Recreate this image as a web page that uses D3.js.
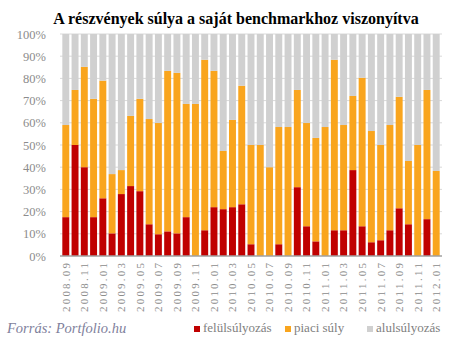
<!DOCTYPE html>
<html><head><meta charset="utf-8">
<script src="https://cdn.jsdelivr.net/npm/d3@7"></script>
<style>body{margin:0;background:#fff}svg{display:block}svg text{font-family:'Liberation Serif','DejaVu Serif',serif}</style>
</head><body>
<script>
const months = ["2008.09","2008.10","2008.11","2008.12","2009.01","2009.02","2009.03","2009.04","2009.05","2009.06","2009.07","2009.08","2009.09","2009.10","2009.11","2009.12","2010.01","2010.02","2010.03","2010.04","2010.05","2010.06","2010.07","2010.08","2010.09","2010.10","2010.11","2010.12","2011.01","2011.02","2011.03","2011.04","2011.05","2011.06","2011.07","2011.08","2011.09","2011.10","2011.11","2011.12","2012.01"];
// felülsúlyozás (%)
const over = [17.5,50,40,17.5,26,10.2,27.9,31.5,29.2,14.3,9.8,11.1,10.2,17.5,0,11.6,22,21.1,22,23.3,5.3,0,0,5.3,0,31,13.4,6.6,0,11.6,11.6,38.7,13.4,6.2,7.1,11.6,21.5,14.3,0,16.6,0];
// piaci súly (%)
const market = [41.5,24.8,45.2,53.3,53,26.7,10.8,31.6,41.6,47.4,50.1,72.3,72.3,51,68.5,76.8,61.4,26.2,39.3,53.4,44.7,50,40,52.8,58.1,43.8,46.5,46.6,58.1,76.8,47.4,33.4,66.9,50.1,42.9,47.4,50.2,28.5,50,58.2,38.3];
// alulsúlyozás (%)
const under = [41,25.2,14.8,29.2,21,63.1,61.3,36.9,29.2,38.3,40.1,16.6,17.5,31.5,31.5,11.6,16.6,52.7,38.7,23.3,50,50,60,41.9,41.9,25.2,40.1,46.8,41.9,11.6,41,27.9,19.7,43.7,50,41,28.3,57.2,50,25.2,61.7];
const yTicks = [0,10,20,30,40,50,60,70,80,90,100];
const seriesNames = ["felülsúlyozás","piaci súly","alulsúlyozás"];
const colors = ["#c00000","#f9a51e","#d0d0d0"];

const W=453,H=345;
const svg=d3.select("body").append("svg").attr("width",W).attr("height",H);
const x=d3.scaleBand().domain(months).range([60,442]).paddingInner(0.25).paddingOuter(0.25);
const y=d3.scaleLinear().domain([0,100]).range([256,34]);

svg.append("text").attr("x",236).attr("y",24).attr("text-anchor","middle")
  .style("font-weight","bold").style("font-size","16px")
  .attr("fill","#000").text("A részvények súlya a saját benchmarkhoz viszonyítva");

// gridlines
svg.append("g").selectAll("line").data(yTicks.slice(1)).join("line")
  .attr("x1",60).attr("x2",442).attr("y1",d=>y(d)).attr("y2",d=>y(d))
  .attr("stroke","#d9d9d9").attr("stroke-width",1);

const rows = months.map((m,i)=>({m, a:over[i], b:market[i], c:under[i]}));
const stack = d3.stack().keys(["a","b","c"])(rows);
svg.append("g").selectAll("g").data(stack).join("g").attr("fill",(d,i)=>colors[i])
  .selectAll("rect").data(d=>d).join("rect")
  .attr("x",d=>x(d.data.m)).attr("width",x.bandwidth())
  .attr("y",d=>y(Math.min(100,d[1]))).attr("height",d=>Math.max(0,y(d[0])-y(Math.min(100,d[1]))));

// y axis
const ya=d3.axisLeft(y).tickValues(yTicks).tickSize(0).tickPadding(14).tickFormat(d=>d+"%");
const yg=svg.append("g").attr("transform","translate(60,0)").call(ya);
yg.attr("font-family",null);
yg.select(".domain").remove();
yg.selectAll("text").style("font-size","12.5px").attr("fill","#8c8c8c");

// x axis
const xa=d3.axisBottom(x).tickValues(months.filter((m,i)=>i%2===0)).tickSize(0).tickPadding(0);
const xg=svg.append("g").attr("transform","translate(0,256)").call(xa);
xg.attr("font-family",null);
xg.select(".domain").attr("stroke","#a0a0a0").attr("stroke-width",1.5).attr("d","M60,0H442");
xg.selectAll("text").style("font-size","11px").attr("fill","#8c8c8c")
  .attr("transform","rotate(-90)").attr("text-anchor","end").attr("x",-7).attr("y",0).attr("dy","0.35em")
  .attr("textLength",49).attr("lengthAdjust","spacing");

// source
svg.append("text").attr("x",7).attr("y",333).style("font-style","italic")
  .style("font-size","14.5px").attr("fill","#7f7f9c").text("Forrás: Portfolio.hu");

// legend
const lx=[194,285,367];
const lg=svg.append("g").selectAll("g").data(seriesNames).join("g").attr("transform",(d,i)=>`translate(${lx[i]},0)`);
lg.append("rect").attr("x",0).attr("y",326).attr("width",6).attr("height",6).attr("fill",(d,i)=>colors[i]);
lg.append("text").attr("x",9).attr("y",332).style("font-size","13px")
  .attr("fill","#808080").text(d=>d);
</script>
</body></html>
